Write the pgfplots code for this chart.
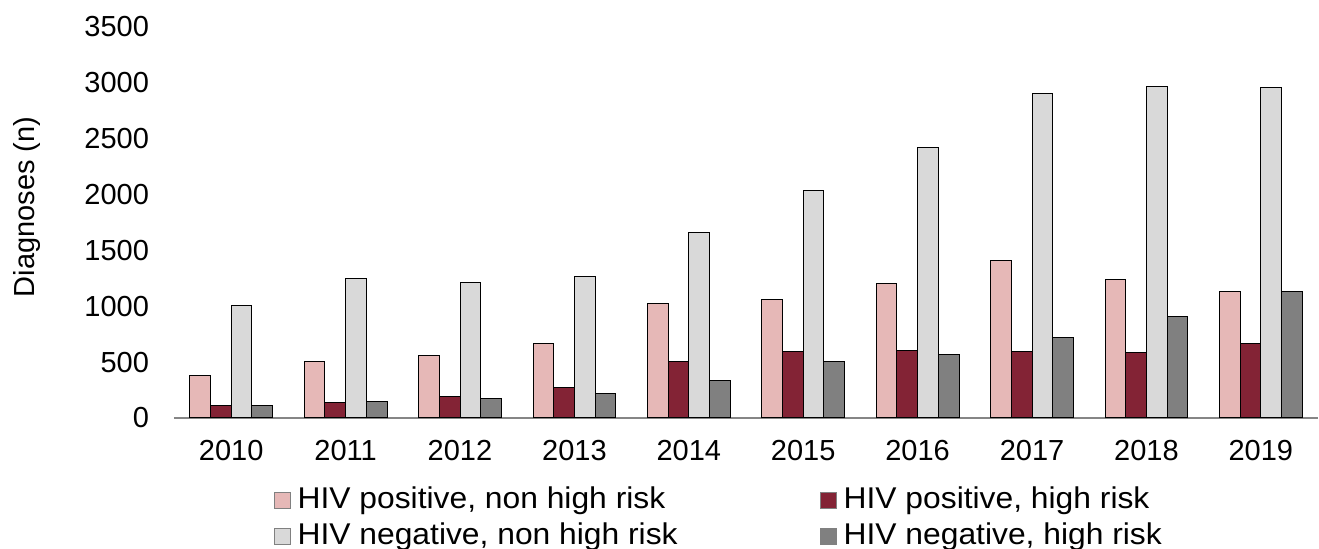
\documentclass[border=0pt]{standalone}
\usepackage{fontspec}
\setmainfont{Liberation Sans}
\newfontfamily\legfont[FakeStretch=1.06]{Liberation Sans}
\usepackage{pgfplots}
\pgfplotsset{compat=1.18}
\definecolor{pinkc}{HTML}{E6B8B7}
\definecolor{redc}{HTML}{832335}
\definecolor{lgray}{HTML}{D9D9D9}
\definecolor{dgray}{HTML}{808080}
\definecolor{axgray}{HTML}{868686}
\begin{document}
\begin{tikzpicture}[font=\fontsize{14.5pt}{17pt}\selectfont]
\useasboundingbox (-87pt,-65.5pt) rectangle (572.5pt,209pt);
\begin{axis}[
  scale only axis,
  width=572pt, height=195.5pt,
  ybar=0pt, bar width=10.35pt,
  xmin=-0.5, xmax=9.5, ymin=0, ymax=3500,
  xtick={0,...,9},
  xticklabels={2010,2011,2012,2013,2014,2015,2016,2017,2018,2019},
  ytick={0,500,...,3500},
  major tick length=0pt,
  axis x line*=bottom, axis y line*=left,
  x axis line style={draw=axgray, line width=0.8pt, -},
  y axis line style={draw=none},
  /pgf/number format/assume math mode=true,
  /pgf/number format/set thousands separator={},
  yticklabel style={xshift=-9pt},
  xticklabel style={yshift=-7.5pt},
  ylabel={Diagnoses (n)},
  ylabel style={at={(axis description cs:-0.1285,0.54)}, anchor=center},
  legend columns=2,
  legend cell align=left,
  legend style={draw=none, fill=none, at={(axis description cs:0.0815,-0.165)}, anchor=north west,
    row sep=4pt,
    nodes={inner xsep=3.5pt, inner ysep=0pt, text height=11pt, text depth=3pt},
    /tikz/column 1/.style={column sep=0pt},
    /tikz/column 2/.style={column sep=67.5pt},
    /tikz/column 3/.style={column sep=0pt},
    font=\legfont\fontsize{15pt}{18pt}\selectfont},
  legend image code/.code={\draw[#1, draw=gray] (0pt,-4pt) rectangle (8pt,4pt);},
  every axis plot/.append style={draw=black, line width=0.5pt},
]
\addplot[fill=pinkc] coordinates {(0,379) (1,505) (2,562) (3,664) (4,1029) (5,1065) (6,1208) (7,1410) (8,1244) (9,1136)};
\addplot[fill=redc] coordinates {(0,110) (1,141) (2,191) (3,275) (4,508) (5,592) (6,601) (7,595) (8,583) (9,666)};
\addplot[fill=lgray] coordinates {(0,1011) (1,1245) (2,1213) (3,1265) (4,1662) (5,2034) (6,2420) (7,2903) (8,2966) (9,2957)};
\addplot[fill=dgray] coordinates {(0,110) (1,150) (2,173) (3,218) (4,338) (5,502) (6,565) (7,724) (8,906) (9,1136)};
\legend{{HIV positive, non high risk}, {HIV positive, high risk}, {HIV negative, non high risk}, {HIV negative, high risk}}
\end{axis}
\end{tikzpicture}
\end{document}
